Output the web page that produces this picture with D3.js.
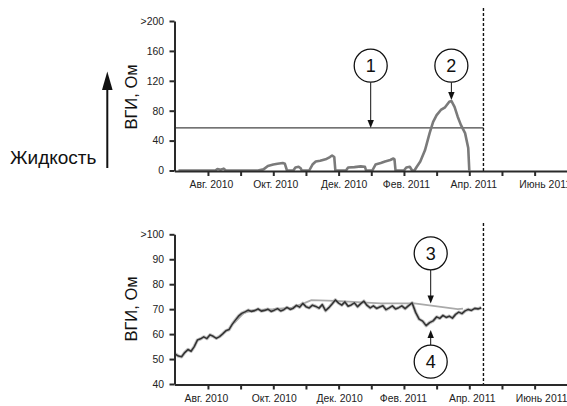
<!DOCTYPE html>
<html><head><meta charset="utf-8">
<script src="https://cdn.jsdelivr.net/npm/d3@7"></script>
<style>
body{margin:0;background:#fff;}
svg text{font-family:"Liberation Sans",Arial,Helvetica,sans-serif;}
</style></head>
<body><svg id="c" width="567" height="406"></svg>
<script>
// ---------- DATA ----------
const monthTicks = [1,2,3,4,5,6,7,8,9,10,11]; // months since Jul 2010
const monthLabels = {1:"Авг. 2010",3:"Окт. 2010",5:"Дек. 2010",7:"Фев. 2011",9:"Апр. 2011",11:"Июнь 2011"};
const topTicks = [0,40,80,120,160,200];
const topTickLabels = ["0","40","80","120","160",">200"];
const botTicks = [40,50,60,70,80,90,100];
const botTickLabels = ["40","50","60","70","80","90",">100"];
const yTitle = "ВГИ, Ом";
const sideLabel = "Жидкость";
const threshold = 57;
const endDate = "2011-04-14";

// top series: fluid index (date, value)
const topDates = ["2010-07-04","2010-08-08","2010-08-10","2010-08-13","2010-08-16","2010-08-18",
 "2010-09-17","2010-09-22","2010-09-26","2010-10-01","2010-10-05","2010-10-10","2010-10-12","2010-10-14",
 "2010-10-20","2010-10-22","2010-10-25","2010-10-27","2010-10-28",
 "2010-11-04","2010-11-07","2010-11-10","2010-11-14","2010-11-19","2010-11-23","2010-11-25","2010-11-27","2010-11-28",
 "2010-12-08","2010-12-10","2010-12-16","2010-12-22","2010-12-26","2010-12-27",
 "2011-01-02","2011-01-05","2011-01-10","2011-01-14","2011-01-19","2011-01-22","2011-01-23","2011-01-24",
 "2011-02-01","2011-02-03","2011-02-06","2011-02-08",
 "2011-02-10","2011-02-12","2011-02-15","2011-02-19","2011-02-23","2011-02-26","2011-03-01","2011-03-05",
 "2011-03-09","2011-03-13","2011-03-15","2011-03-18","2011-03-21","2011-03-24","2011-03-28","2011-03-31","2011-04-01"];
const topValues = [0,0,2,1,2.5,0,
 0,1.5,6,8,9,10,9,0,
 0,4,5,3,0,
 0,8,12,13,15,18,20,18,0,
 0,4,4.5,5.5,5,0,
 0,8,10,12,14,16,15,0,
 0,4,5,0,
 0,5,12,27,50,65,74,81,
 84.5,92,93,85,72,61,50,30,0];

// bottom series: impedance, every 3 days from start
const botStart = "2010-07-01";
const botStepDays = 3;
const botValues = [52.0,51.2,50.9,52.6,53.8,53.1,55.0,57.6,58.1,58.9,
 58.2,59.7,59.1,58.3,59.0,60.1,61.3,61.8,63.9,65.6,
 67.2,68.3,68.9,69.6,69.1,69.4,70.1,69.2,69.5,70.0,
 69.1,69.6,70.2,69.3,69.8,70.7,69.9,70.4,71.5,70.8,
 72.3,71.0,70.5,71.6,71.1,70.4,71.8,69.4,70.6,72.1,
 73.7,72.4,71.6,72.9,71.2,71.7,72.5,71.0,72.2,73.2,
 71.5,70.5,71.3,70.3,70.9,71.4,69.8,70.5,71.3,70.1,
 70.6,71.3,70.2,71.4,72.5,68.7,66.0,65.2,63.4,64.6,
 65.3,66.9,66.3,67.5,66.7,67.2,66.4,67.9,68.8,68.2,
 69.3,69.9,69.5,70.3,70.1,70.6];
// reference (baseline) impedance line
const refDates = ["2010-08-26","2010-09-04","2010-09-13","2010-10-01","2010-10-19","2010-10-31","2010-11-06","2010-11-28","2010-12-19","2011-01-10","2011-02-10","2011-03-21","2011-03-26"];
const refValues = [64.5,68.5,69.6,70.0,70.6,72.5,73.6,73.3,72.8,72.3,72.3,70.0,70.2];

// ---------- HELPERS ----------
const parse = d3.timeParse("%Y-%m-%d");
function toMonth(d){ // fractional months since 2010-07-01
  const dim = new Date(d.getFullYear(), d.getMonth()+1, 0).getDate();
  return (d.getFullYear()-2010)*12 + d.getMonth() - 6 + (d.getDate()-1)/dim;
}
const svg = d3.select("#c");
const x = d3.scaleLinear().domain([-0.03, 12]).range([174.3, 567.3]);
const yT = d3.scaleLinear().domain([0,200]).range([170.5, 21]);
const yB = d3.scaleLinear().domain([40,100]).range([384, 234.3]);
const axisColor = "#2a2a2a";
const topLabelDx = {1:3,3:2,5:5,7:2,9:4,11:10};
const botLabelDx = {1:-2,3:0.5,5:0.5,7:-1,9:2.4,11:6.5};

function drawAxes(y, ticks, labels, baseY, labelDx, titleY){
  const gx = svg.append("g").attr("transform",`translate(0,${baseY})`)
    .call(d3.axisBottom(x).tickValues(monthTicks).tickSize(5).tickSizeOuter(0)
      .tickFormat(m => monthLabels[m] || ""));
  gx.select(".domain").attr("stroke",axisColor).attr("stroke-width",2);
  gx.selectAll(".tick line").attr("stroke",axisColor).attr("stroke-width",2);
  gx.selectAll(".tick text").attr("font-size",10.4).attr("fill","#222").attr("dy","0.9em")
    .attr("dx",m => labelDx[m] || 0);
  const gy = svg.append("g").attr("transform",`translate(174.5,0)`)
    .call(d3.axisLeft(y).tickValues(ticks).tickSize(5).tickSizeOuter(0)
      .tickFormat((v,i)=>labels[i]));
  gy.select(".domain").attr("stroke",axisColor).attr("stroke-width",2);
  gy.selectAll(".tick line").attr("stroke",axisColor).attr("stroke-width",2);
  gy.selectAll(".tick text").attr("font-size",10.4).attr("fill","#222").attr("x",-10.5);
  svg.append("text").attr("transform",`translate(137,${titleY}) rotate(-90)`)
    .attr("text-anchor","middle").attr("font-size",16.5).attr("fill","#111").text(yTitle);
}

function dashed(y0,y1){
  const xe = x(toMonth(parse(endDate)));
  svg.append("line").attr("x1",xe).attr("x2",xe)
    .attr("y1",y0).attr("y2",y1).attr("stroke","#111").attr("stroke-width",1.4).attr("stroke-dasharray","3,2");
}

function marker(cx, cy, label, tipY, fromTop){
  const r = 16.5;
  const startY = fromTop ? cy + r : cy - r;
  const dir = fromTop ? 1 : -1;
  svg.append("line").attr("x1",cx).attr("x2",cx).attr("y1",startY).attr("y2",tipY - dir*5)
    .attr("stroke","#111").attr("stroke-width",1);
  svg.append("path").attr("d",`M${cx},${tipY} L${cx-3.2},${tipY-dir*8} L${cx+3.2},${tipY-dir*8} Z`).attr("fill","#111");
  svg.append("circle").attr("cx",cx).attr("cy",cy).attr("r",r).attr("fill","#fff").attr("stroke","#111").attr("stroke-width",1.3);
  svg.append("text").attr("x",cx).attr("y",cy).attr("dy","0.36em").attr("text-anchor","middle")
    .attr("font-size",18).attr("fill","#111").text(label);
}

// ---------- TOP CHART ----------
const topData = topDates.map((d,i)=>({m:toMonth(parse(d)), v:topValues[i]}));
svg.append("line").attr("x1",174.5).attr("x2",x(toMonth(parse(endDate))))
  .attr("y1",yT(threshold)).attr("y2",yT(threshold)).attr("stroke","#444").attr("stroke-width",1.1);
svg.append("path").datum(topData)
  .attr("d", d3.line().x(d=>x(d.m)).y(d=>yT(d.v)))
  .attr("fill","none").attr("stroke","#7a7a7a").attr("stroke-width",2.6).attr("stroke-linejoin","round");
dashed(8, 171);
drawAxes(yT, topTicks, topTickLabels, 171, topLabelDx, 97);

const peak = topData.reduce((a,b)=>b.v>a.v?b:a);
marker(370.7, 65.7, "1", yT(threshold), true);
marker(x(peak.m), 65.7, "2", yT(peak.v)-1, true);

// side label with arrow
svg.append("text").attr("x",10).attr("y",163.5).attr("font-size",19).attr("fill","#111").text(sideLabel);
svg.append("line").attr("x1",107.3).attr("x2",107.3).attr("y1",168).attr("y2",86).attr("stroke","#111").attr("stroke-width",2);
svg.append("path").attr("d","M107.3,71.5 L102,90 L112.6,90 Z").attr("fill","#111");

// ---------- BOTTOM CHART ----------
const s0 = parse(botStart);
const botData = botValues.map((v,i)=>({m:toMonth(d3.timeDay.offset(s0, i*botStepDays)), v}));
const refData = refDates.map((d,i)=>({m:toMonth(parse(d)), v:refValues[i]}));
const lineB = d3.line().x(d=>x(d.m)).y(d=>yB(d.v));
svg.append("path").datum(botData).attr("d", lineB)
  .attr("fill","none").attr("stroke","#c4c4c4").attr("stroke-width",3.4).attr("stroke-linejoin","round");
svg.append("path").datum(refData).attr("d", lineB)
  .attr("fill","none").attr("stroke","#aaaaaa").attr("stroke-width",1.8);
svg.append("path").datum(botData).attr("d", lineB)
  .attr("fill","none").attr("stroke","#333").attr("stroke-width",1.6).attr("stroke-linejoin","round");
dashed(223, 384);
drawAxes(yB, botTicks, botTickLabels, 384.5, botLabelDx, 309);

marker(430.7, 253.3, "3", 303.5, true);
marker(430.7, 361.7, "4", 330, false);
</script></body></html>
